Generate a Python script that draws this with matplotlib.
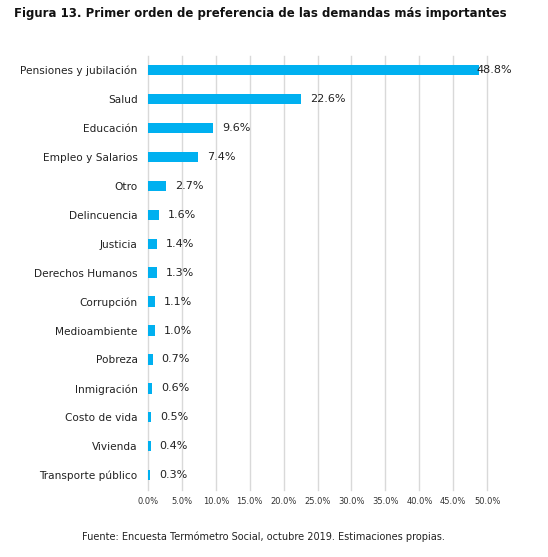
import numpy as np
import matplotlib.pyplot as plt

categorias = ['Pensiones y jubilación', 'Salud', 'Educación', 'Empleo y Salarios', 'Otro',
              'Delincuencia', 'Justicia', 'Derechos Humanos', 'Corrupción', 'Medioambiente',
              'Pobreza', 'Inmigración', 'Costo de vida', 'Vivienda', 'Transporte público']
valores = [48.8, 22.6, 9.6, 7.4, 2.7, 1.6, 1.4, 1.3, 1.1, 1.0, 0.7, 0.6, 0.5, 0.4, 0.3]
ticks_x = [0, 5, 10, 15, 20, 25, 30, 35, 40, 45, 50]

fig = plt.figure(figsize=(5.48, 5.57), dpi=100)
ax = fig.add_axes([0.27, 0.121, 0.619, 0.779])

y = np.arange(len(categorias))
ax.barh(y, valores, height=0.36, color='#00B0F0', zorder=3)
for yi, v in zip(y, valores):
    # la etiqueta mas larga se queda dentro del area del grafico
    ax.text(min(v + 1.3, 48.4), yi, '{:.1f}%'.format(v), va='center', ha='left',
            fontsize=8, color='#222222', zorder=4)

ax.set_ylim(len(categorias) - 0.5, -0.5)
ax.set_xlim(0, 50)
ax.set_yticks(y)
ax.set_yticklabels(categorias, fontsize=7.6, color='#222222')
ax.set_xticks(ticks_x)
ax.set_xticklabels(['{:.1f}%'.format(t) for t in ticks_x], fontsize=6, color='#333333')
ax.tick_params(length=0, axis='y', pad=7.5)
ax.tick_params(length=0, axis='x', pad=5)
ax.grid(axis='x', color='#d9d9d9', linewidth=1, zorder=0)
for gl in ax.get_xgridlines():
    gl.set_clip_on(False)
for s in ax.spines.values():
    s.set_visible(False)

fig.text(0.026, 0.975, 'Figura 13. Primer orden de preferencia de las demandas más importantes',
         fontsize=8.5, fontweight='bold', ha='left', va='center', color='#111111')
fig.text(0.48, 0.036, 'Fuente: Encuesta Termómetro Social, octubre 2019. Estimaciones propias.',
         fontsize=7.0, ha='center', va='center', color='#222222')

plt.savefig('out.png', dpi=100)
